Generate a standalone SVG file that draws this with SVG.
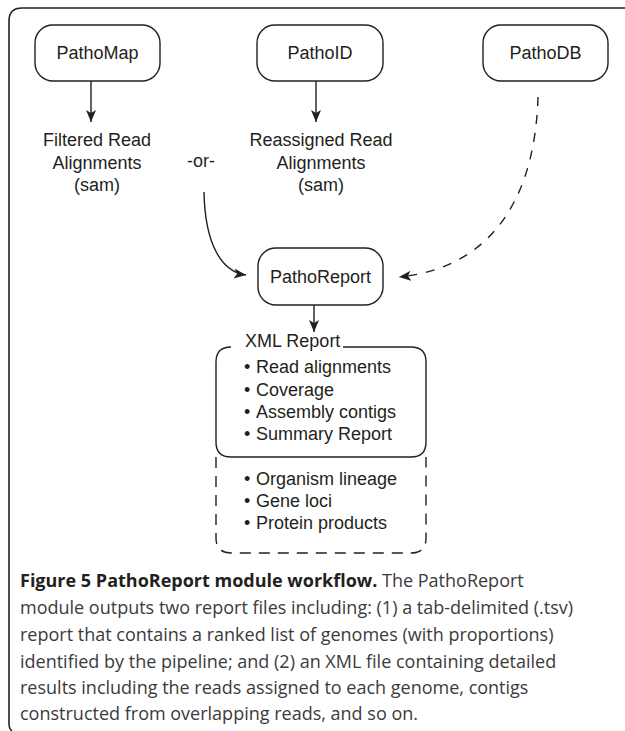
<svg xmlns="http://www.w3.org/2000/svg" width="625" height="731" viewBox="0 0 625 731">
<defs>
<style>
.box{fill:#fff;stroke:#231f20;stroke-width:1.4}
.lbl{font-family:"Liberation Sans",Arial,sans-serif;font-size:18px;fill:#231f20}
.mid{text-anchor:middle}
.con{fill:none;stroke:#231f20;stroke-width:1.4}
.dash{stroke-dasharray:9 9}
.dash2{stroke-dasharray:11 8}
.cap{font-family:"Open Sans","Noto Sans",sans-serif;font-size:18px;fill:#3b3b3b}
.capb{font-weight:bold;fill:#231f20}
</style>
<marker id="ah" markerUnits="userSpaceOnUse" markerWidth="13" markerHeight="11" refX="12" refY="5" orient="auto">
<path d="M0,0 L12,5 L0,10 L3,5 z" fill="#231f20"/>
</marker>
</defs>
<rect width="625" height="731" fill="#fff"/>
<path d="M12,731 Q9,729 9,724 L9,21 Q9,8 22,8 L625,8" fill="none" stroke="#231f20" stroke-width="1.6"/>

<g id="pathomap">
<rect class="box" x="35" y="25" width="125" height="56" rx="18"/>
<text class="lbl mid" x="97.5" y="59">PathoMap</text>
</g>
<g id="pathoid">
<rect class="box" x="257" y="25" width="126" height="56" rx="18"/>
<text class="lbl mid" x="320" y="59">PathoID</text>
</g>
<g id="pathodb">
<rect class="box" x="483" y="25" width="125" height="56" rx="18"/>
<text class="lbl mid" x="545.5" y="59">PathoDB</text>
</g>
<g id="filtered">
<text class="lbl mid" x="97" y="146">Filtered Read</text>
<text class="lbl mid" x="97" y="169">Alignments</text>
<text class="lbl mid" x="97" y="191">(sam)</text>
</g>
<g id="or">
<text class="lbl mid" x="201" y="167">-or-</text>
</g>
<g id="reassigned">
<text class="lbl mid" x="321" y="146">Reassigned Read</text>
<text class="lbl mid" x="321" y="169">Alignments</text>
<text class="lbl mid" x="321" y="191">(sam)</text>
</g>
<g id="pathoreport">
<rect class="box" x="258" y="248" width="125" height="57" rx="18"/>
<text class="lbl mid" x="320.5" y="283">PathoReport</text>
</g>
<g id="xmlreport">
<text class="lbl" x="245" y="347">XML Report</text>
<path class="con" d="M231,347 Q216,347 216,362 L216,442 Q216,457 231,457 L411,457 Q426,457 426,442 L426,362 Q426,347 411,347 L343,347"/>
<path class="con dash2" d="M216,457 L216,538 Q216,553 231,553 L411,553 Q426,553 426,538 L426,457"/>
<g class="lbl">
<text x="244" y="373">•</text><text x="256" y="373">Read alignments</text>
<text x="244" y="396">•</text><text x="256" y="396">Coverage</text>
<text x="244" y="418">•</text><text x="256" y="418">Assembly contigs</text>
<text x="244" y="440">•</text><text x="256" y="440">Summary Report</text>
<text x="244" y="485">•</text><text x="256" y="485">Organism lineage</text>
<text x="244" y="507">•</text><text x="256" y="507">Gene loci</text>
<text x="244" y="529">•</text><text x="256" y="529">Protein products</text>
</g>
</g>
<g id="connectors">
<line class="con" x1="91" y1="81" x2="91" y2="122" marker-end="url(#ah)"/>
<line class="con" x1="316" y1="81" x2="316" y2="122" marker-end="url(#ah)"/>
<path class="con" d="M204,192 C205,245 222,272 246,275" marker-end="url(#ah)"/>
<path class="con dash" d="M538,97 C535,200 490,268 399,277" marker-end="url(#ah)"/>
<line class="con" x1="314" y1="305" x2="314" y2="332" marker-end="url(#ah)"/>
</g>
<g id="caption" class="cap">
<text x="20" y="587"><tspan class="capb">Figure 5 PathoReport module workflow.</tspan> The PathoReport</text>
<text x="20" y="614">module outputs two report files including: (1) a tab-delimited (.tsv)</text>
<text x="20" y="641">report that contains a ranked list of genomes (with proportions)</text>
<text x="20" y="668">identified by the pipeline; and (2) an XML file containing detailed</text>
<text x="20" y="694">results including the reads assigned to each genome, contigs</text>
<text x="20" y="720">constructed from overlapping reads, and so on.</text>
</g>
</svg>
